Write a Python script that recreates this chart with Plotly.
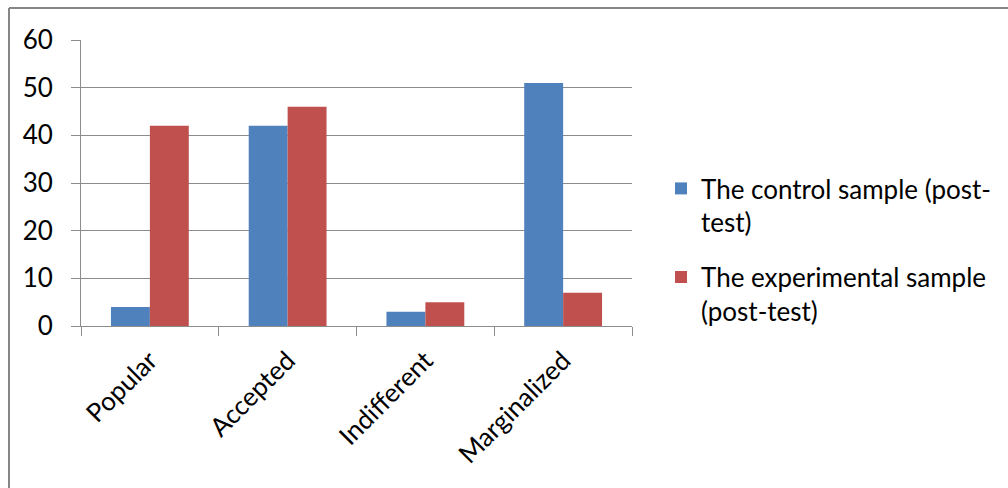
import plotly.graph_objects as go

categories = ["Popular", "Accepted", "Indifferent", "Marginalized"]
control_post = [4, 42, 3, 51]
experimental_post = [42, 46, 5, 7]
series_names = ["The control sample (post-<br>test)", "The experimental sample<br>(post-test)"]
y_ticks = [0, 10, 20, 30, 40, 50, 60]

W, H = 1008, 488
ML, MT = 81, 40
PW, PH = 551, 286
MR = W - ML - PW
MB = H - MT - PH

FONT = "Lato, Open Sans, sans-serif"
FS = 26
GRID = "#8c8c8c"

fig = go.Figure()
fig.add_trace(go.Bar(x=categories, y=control_post, name=series_names[0],
                     legendgroup="control",
                     marker=dict(color="#4F81BD", line=dict(width=0))))
fig.add_trace(go.Bar(x=categories, y=experimental_post, name=series_names[1],
                     legendgroup="experimental",
                     marker=dict(color="#C0504D", line=dict(width=0))))

def px_x(p):
    return (p - ML) / PW

def px_y(p):
    return (H - MB - p) / PH

fig.update_layout(
    width=W, height=H,
    margin=dict(l=ML, r=MR, t=MT, b=MB, autoexpand=False),
    paper_bgcolor="white", plot_bgcolor="white",
    barmode="group", bargap=0.435, bargroupgap=0,
    font=dict(family=FONT, size=FS, color="#000000"),
    showlegend=True,
    legend=dict(x=px_x(661), y=px_y(165), xanchor="left", yanchor="top",
                font=dict(family=FONT, size=FS, color="#000000"),
                valign="top", tracegroupgap=18, bgcolor="rgba(0,0,0,0)"),
    xaxis=dict(showgrid=False, showline=True, linecolor=GRID, linewidth=1,
               ticks="outside", tickson="boundaries", ticklen=9, tickcolor=GRID,
               tickangle=-45, ticklabelstandoff=8,
               tickfont=dict(family=FONT, size=FS, color="#000000"),
               zeroline=False),
    yaxis=dict(range=[0, 60], tickvals=y_ticks, showgrid=True, gridcolor=GRID,
               gridwidth=1, showline=True, linecolor=GRID, linewidth=1,
               ticks="outside", ticklen=9, tickcolor=GRID, ticklabelstandoff=13,
               tickfont=dict(family=FONT, size=FS, color="#000000"),
               zeroline=False),
    shapes=[
        dict(type="line", xref="paper", yref="paper",
             x0=px_x(9), x1=px_x(1010), y0=px_y(8), y1=px_y(8),
             line=dict(color="#868686", width=2)),
        dict(type="line", xref="paper", yref="paper",
             x0=px_x(9), x1=px_x(9), y0=px_y(8), y1=px_y(490),
             line=dict(color="#868686", width=2)),
    ],
)

fig.write_html("out.html")
